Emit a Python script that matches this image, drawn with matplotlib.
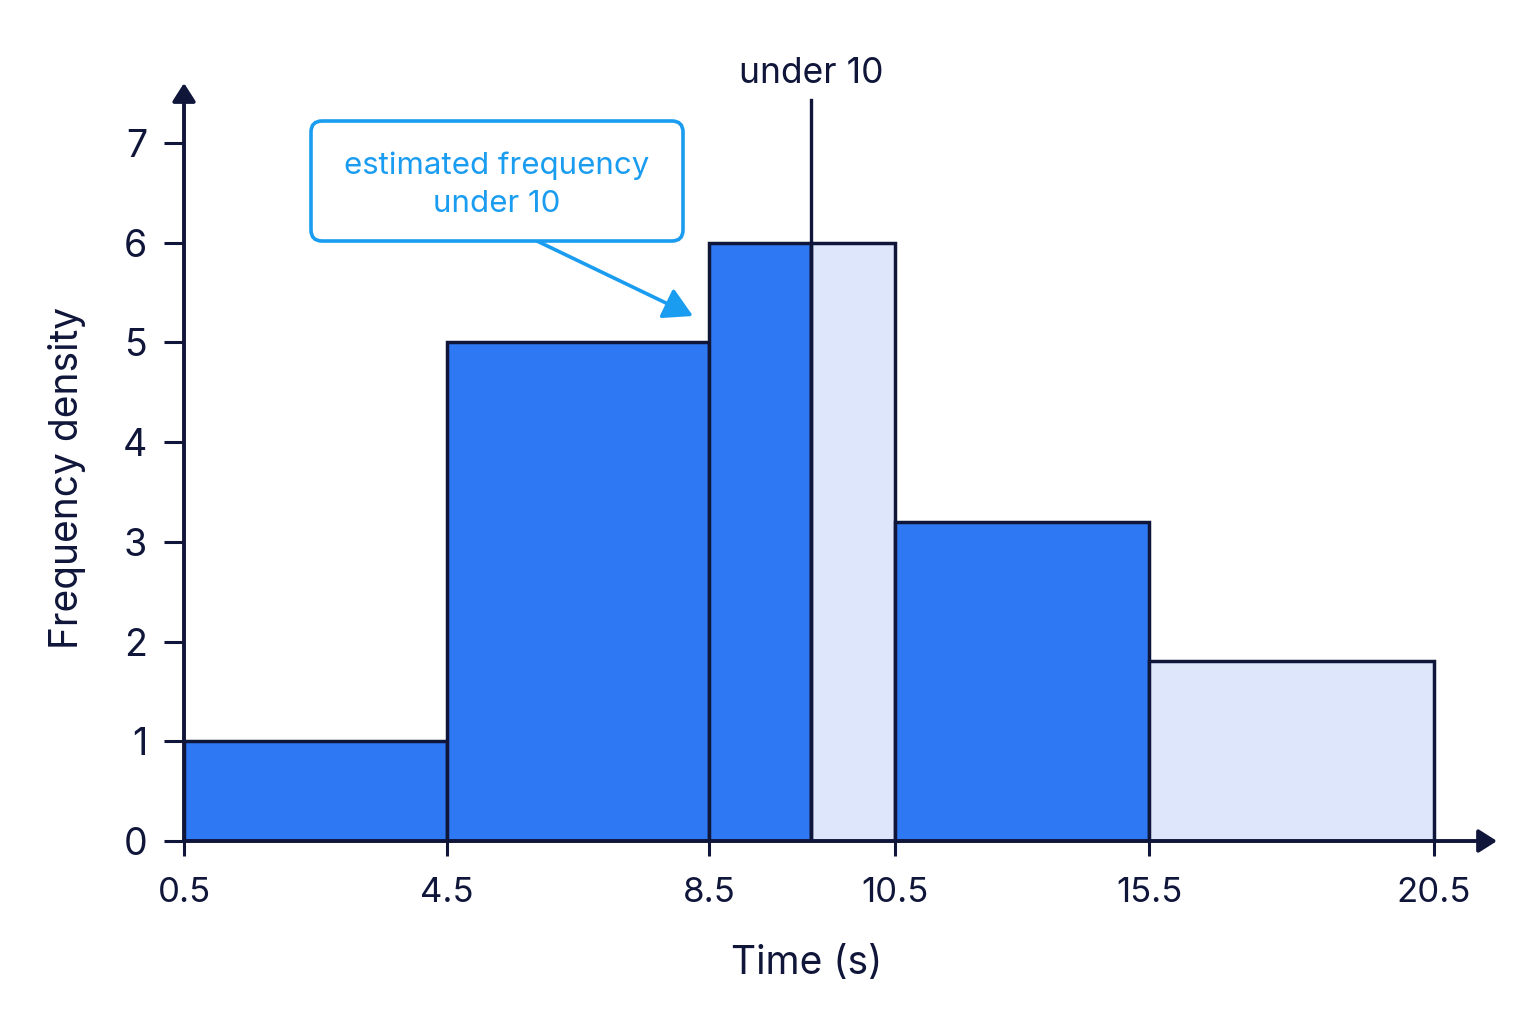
import numpy as np
import matplotlib

matplotlib.use("Agg")
import matplotlib.pyplot as plt
from matplotlib.patches import FancyBboxPatch
from matplotlib.transforms import blended_transform_factory

# histogram data: time classes (s) and frequency density
class_left = [0.5, 4.5, 8.5, 10.0, 10.5, 15.5]
class_right = [4.5, 8.5, 10.0, 10.5, 15.5, 20.5]
density = [1.0, 5.0, 6.0, 6.0, 3.2, 1.8]
shaded = [True, True, True, False, True, False]

x_ticks = [0.5, 4.5, 8.5, 10.5, 15.5, 20.5]
x_tick_labels = ["0.5", "4.5", "8.5", "10.5", "15.5", "20.5"]
y_ticks = [0, 1, 2, 3, 4, 5, 6, 7]
split_value = 10

# the drawn x axis is not to scale; piecewise map value -> axis length
warp_values = np.array([0.5, 4.5, 8.5, 10.0, 10.5, 15.5, 20.5])
warp_lengths = np.array([0.0, 263.0, 525.0, 627.0, 711.0, 965.0, 1250.0])

NAVY = "#10163a"
DARK = "#2f78f3"
LIGHT = "#dde6fb"
CALLOUT = "#1a9cf0"


def _forward(x):
    x = np.asarray(x, dtype=float)
    out = np.interp(x, warp_values, warp_lengths)
    lo_slope = (warp_lengths[1] - warp_lengths[0]) / (warp_values[1] - warp_values[0])
    hi_slope = (warp_lengths[-1] - warp_lengths[-2]) / (warp_values[-1] - warp_values[-2])
    out = np.where(x < warp_values[0], warp_lengths[0] + (x - warp_values[0]) * lo_slope, out)
    out = np.where(x > warp_values[-1], warp_lengths[-1] + (x - warp_values[-1]) * hi_slope, out)
    return out


def _inverse(y):
    y = np.asarray(y, dtype=float)
    out = np.interp(y, warp_lengths, warp_values)
    lo_slope = (warp_values[1] - warp_values[0]) / (warp_lengths[1] - warp_lengths[0])
    hi_slope = (warp_values[-1] - warp_values[-2]) / (warp_lengths[-1] - warp_lengths[-2])
    out = np.where(y < warp_lengths[0], warp_values[0] + (y - warp_lengths[0]) * lo_slope, out)
    out = np.where(y > warp_lengths[-1], warp_values[-1] + (y - warp_lengths[-1]) * hi_slope, out)
    return out


plt.rcParams["font.family"] = ["Inter", "DejaVu Sans"]

fig = plt.figure(figsize=(15.36, 10.24), dpi=100)
ax = fig.add_axes([0.1198, 0.1787, 0.8548, 0.7402])
ax.set_xscale("function", functions=(_forward, _inverse))
ax.set_xlim(0.5, float(_inverse(1313.0)))
ax.set_ylim(0, 7.6)

for left, right, h, dark in zip(class_left, class_right, density, shaded):
    ax.bar(
        left,
        h,
        width=right - left,
        align="edge",
        color=DARK if dark else LIGHT,
        edgecolor=NAVY,
        linewidth=2.5,
        zorder=2,
    )

ax.axvline(split_value, ymin=0, ymax=0.978, color=NAVY, linewidth=2.4, zorder=3)
blend = blended_transform_factory(ax.transData, ax.transAxes)
ax.text(split_value, 1.013, "under 10", transform=blend, ha="center", va="center",
        fontsize=25.5, color=NAVY)

# axes with arrow heads
for side in ("top", "right", "left", "bottom"):
    ax.spines[side].set_visible(False)
arrow_kw = dict(arrowstyle="-|>,head_length=0.55,head_width=0.35", color=NAVY, lw=2.8,
                mutation_scale=20, shrinkA=0, shrinkB=0)
ax.annotate("", xy=(0, 1), xytext=(0, 0), xycoords="axes fraction", arrowprops=arrow_kw,
            annotation_clip=False, zorder=4)
ax.annotate("", xy=(1, 0), xytext=(0, 0), xycoords="axes fraction", arrowprops=arrow_kw,
            annotation_clip=False, zorder=4)

ax.set_xticks(x_ticks)
ax.set_xticklabels(x_tick_labels)
ax.set_yticks(y_ticks)
ax.xaxis.set_minor_locator(matplotlib.ticker.NullLocator())
ax.tick_params(axis="x", length=11, width=2.2, color=NAVY, labelsize=25, labelcolor=NAVY, pad=15)
ax.tick_params(axis="y", length=14.5, width=2.2, color=NAVY, labelsize=27, labelcolor=NAVY, pad=12)

ax.set_xlabel("Time (s)", fontsize=28, color=NAVY)
ax.xaxis.set_label_coords(0.474, -0.137)
ax.set_ylabel("Frequency density", fontsize=28, color=NAVY)
ax.yaxis.set_label_coords(-0.075, 0.479)

# callout box and pointer
box = FancyBboxPatch(
    (311 / 1536, 1 - 241 / 1024),
    372 / 1536,
    120 / 1024,
    boxstyle="round,pad=0,rounding_size=0.0072",
    mutation_aspect=1536 / 1024,
    transform=fig.transFigure,
    facecolor="white",
    edgecolor=CALLOUT,
    linewidth=2.6,
    zorder=5,
)
fig.patches.append(box)
fig.text(497 / 1536, 1 - 185 / 1024, "estimated frequency\nunder 10", ha="center", va="center",
         fontsize=22.5, color=CALLOUT, linespacing=1.45, zorder=6)
fig.add_artist(
    matplotlib.patches.FancyArrowPatch(
        (537 / 1536, 1 - 241 / 1024),
        (693 / 1536, 1 - 316 / 1024),
        transform=fig.transFigure,
        arrowstyle="-|>,head_length=0.8,head_width=0.45",
        mutation_scale=22,
        color=CALLOUT,
        lw=2.6,
        shrinkA=0,
        shrinkB=0,
    )
)

fig.savefig("out.png", dpi=100, facecolor="white")
plt.close(fig)
